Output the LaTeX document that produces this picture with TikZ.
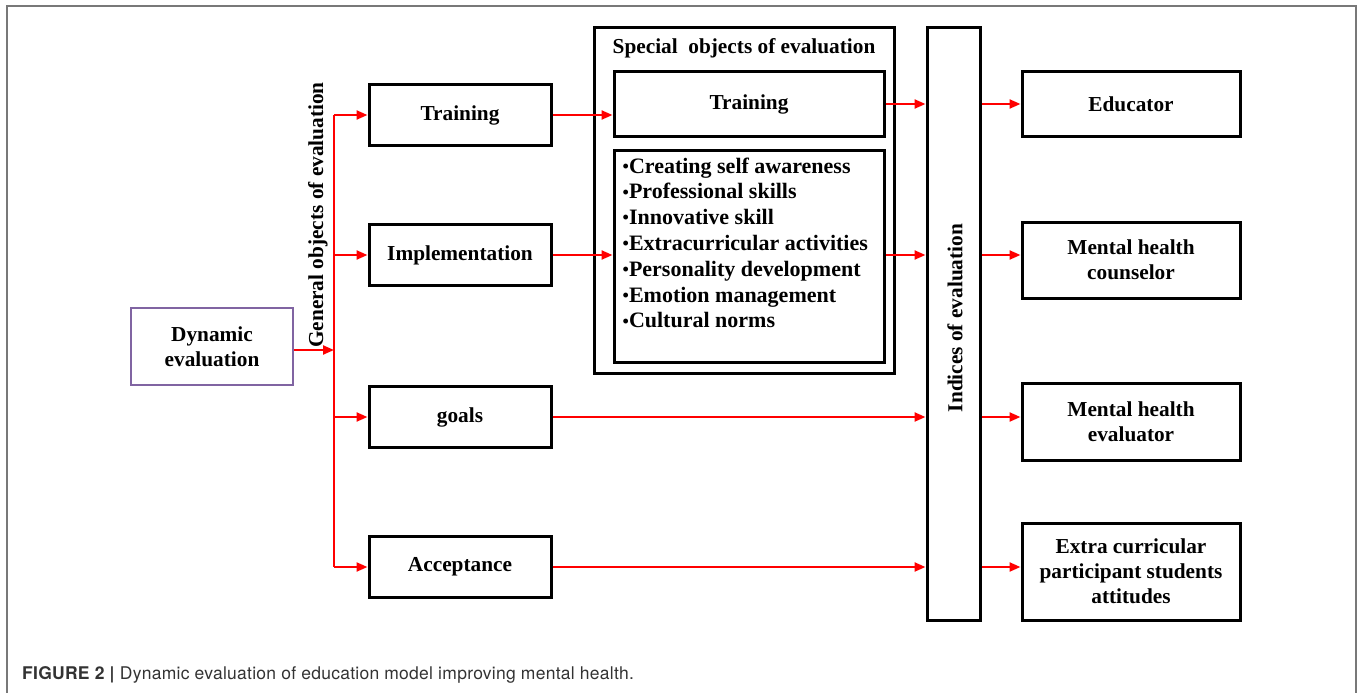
\documentclass[tikz,border=0pt]{standalone}
\usepackage{fontspec}
\setmainfont{Liberation Serif}
\newfontfamily\capfont[LetterSpace=1.5]{TeX Gyre Heros}
\usepackage{xcolor}
\usepackage{tikz}
\usetikzlibrary{positioning, arrows.meta}

\definecolor{dynpurple}{RGB}{128,100,162}
\definecolor{flowred}{RGB}{255,0,0}
\definecolor{framegray}{RGB}{120,120,120}

\newcommand{\dotitem}{{\fontsize{18}{18}\selectfont\raisebox{.1ex}{\textbullet}}}

\tikzset{
    boldtext/.style={font=\fontsize{21.3}{25}\selectfont\bfseries},
    box/.style={draw, line width=3pt, align=center, boldtext, inner sep=0pt},
    leftbox/.style={box, minimum width=182pt, minimum height=61pt},
    rightbox/.style={box, minimum width=218pt},
    flow/.style={draw=flowred, line width=2.2pt, -{Triangle[length=11pt,width=9pt]}},
    wire/.style={draw=flowred, line width=2.2pt},
}

\begin{document}
\begin{tikzpicture}[x=1pt, y=1pt]
    \useasboundingbox (0,0) rectangle (1358,-693);
    % frame around the figure
    \draw[framegray, line width=1.5pt] (7,-693) -- (7,-6) -- (1356,-6) -- (1356,-693);

    % source and the branching bus
    \node[box, draw=dynpurple, line width=2.5pt, minimum width=162pt, minimum height=77pt] (dyn) at (212,-346.5) {Dynamic\\evaluation};
    \coordinate (bus) at (334,-350);
    \node[boldtext, rotate=90] (general) at (318,-215) {General objects of evaluation};

    % general objects
    \node[leftbox] (train)  at (460,-115) {Training};
    \node[leftbox] (impl)   at (460,-255) {Implementation};
    \node[leftbox] (goals)  at (460,-417) {goals};
    \node[leftbox] (accept) at (460,-567) {Acceptance};

    % special objects
    \node[box, minimum width=300pt, minimum height=345pt] (special) at (744,-200.5) {};
    \node[boldtext, below=8pt of special.north] (spTitle) {Special\ \ objects of evaluation};
    \node[box, minimum width=270pt, minimum height=64pt] (spTrain) at (749,-104) {Training};
    \node[box, minimum width=270pt, minimum height=212pt] (skills) at (749,-256) {};
    \node[align=left, anchor=north west, font=\fontsize{22}{25.8}\selectfont\bfseries,
          inner sep=0pt, below right=9pt and 10pt of skills.north west] (skillList) {%
        \dotitem Creating self awareness\\
        \dotitem Professional skills\\
        \dotitem Innovative skill\\
        \dotitem Extracurricular activities\\
        \dotitem Personality development\\
        \dotitem Emotion management\\
        \dotitem Cultural norms};

    % indices column
    \node[box, minimum width=53pt, minimum height=592pt] (idx) at (953.5,-324) {};
    \node[boldtext, rotate=90] (idxLabel) at (955,-318) {Indices of evaluation};

    % evaluators
    \node[rightbox, minimum height=64pt] (edu)    at (1131,-104) {Educator};
    \node[rightbox, minimum height=76pt] (couns)  at (1131,-260) {Mental health\\counselor};
    \node[rightbox, minimum height=77pt] (evalr)  at (1131,-421.5) {Mental health\\evaluator};
    \node[rightbox, minimum height=97pt] (extra)  at (1131,-571.5) {Extra curricular\\participant students\\attitudes};

    % connectors
    \draw[flow] (dyn.east |- bus) -- (bus);
    \draw[wire] (bus |- train) -- (bus |- accept);
    \foreach \n in {train, impl, goals, accept}
        \draw[flow] (bus |- \n) -- (\n.west);

    \draw[flow] (train.east) -- (train.east -| spTrain.west);
    \draw[flow] (impl.east) -- (impl.east -| skills.west);
    \draw[flow] (spTrain.east) -- (spTrain.east -| idx.west);
    \draw[flow] (skills.east |- impl) -- (idx.west |- impl);
    \draw[flow] (goals.east) -- (goals.east -| idx.west);
    \draw[flow] (accept.east) -- (accept.east -| idx.west);

    \draw[flow] (idx.east |- spTrain) -- (edu.west |- spTrain);
    \draw[flow] (idx.east |- impl) -- (couns.west |- impl);
    \draw[flow] (idx.east |- goals) -- (evalr.west |- goals);
    \draw[flow] (idx.east |- accept) -- (extra.west |- accept);

    % caption
    \node[anchor=base west, inner sep=0pt, text=black!80, font=\capfont\fontsize{17.5}{20}\selectfont] (caption) at (22,-679)
        {\textbf{FIGURE 2 |} Dynamic evaluation of education model improving mental health.};
\end{tikzpicture}
\end{document}
